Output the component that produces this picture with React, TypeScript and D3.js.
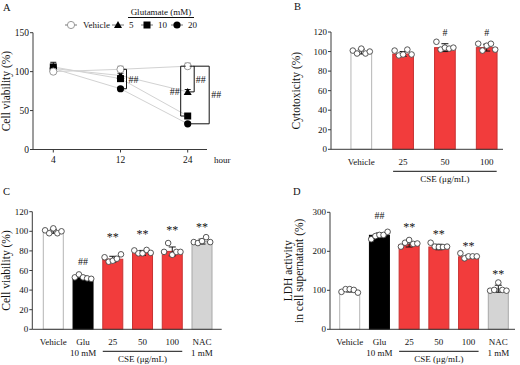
import React from 'react';
import * as d3 from 'd3';

const FONT = "'Liberation Serif', 'Times New Roman', serif";

// ---------- Panel A data ----------
const timeLabels = ['4', '12', '24'];
const vehicleA = [100, 103, 107];
const vehicleASd = [3, 4, 4];
const glu5A = [104, 95, 74];
const glu5ASd = [3, 3, 3];
const glu10A = [106, 91, 43];
const glu10ASd = [6, 3, 2];
const glu20A = [104, 78, 33];
const glu20ASd = [3, 2, 2];
const yTicksA = [0, 50, 100, 150];
const legendLabelsA = ['Vehicle', '5', '10', '20'];

// ---------- Panel B data ----------
const catsB = ['Vehicle', '25', '50', '100'];
const meansB = [100, 97.5, 104, 104];
const sdB = [2.5, 2.5, 4, 3.5];
const dotsB = [
  [101, 98, 103, 98, 100],
  [101, 96, 97, 102, 97],
  [110, 102, 104, 103, 104],
  [108, 101, 106, 108, 102],
];
const marksB = ['', '', '#', '#'];
const markPosB = [0, 0, 119, 119];
const yTicksB = [0, 20, 40, 60, 80, 100, 120];

// ---------- Panel C data ----------
const catsC = ['Vehicle', 'Glu\n10 mM', '25', '50', '100', 'NAC\n1 mM'];
const meansC = [100, 53, 71.5, 78, 79.5, 89.5];
const sdC = [2, 1.5, 3, 2.5, 4.5, 2.5];
const dotsC = [
  [101, 98, 103, 98, 100],
  [53, 56, 53, 52, 51.5],
  [73.5, 69, 70, 72, 76.5],
  [80.5, 77.5, 77.5, 81, 78],
  [79, 88, 76, 79, 79],
  [89, 88, 90, 94, 89],
];
const marksC = ['', '##', '**', '**', '**', '**'];
const markPosC = [0, 69, 96, 99.5, 103, 106];
const yTicksC = [0, 20, 40, 60, 80, 100, 120];

// ---------- Panel D data ----------
const catsD = ['Vehicle', 'Glu\n10 mM', '25', '50', '100', 'NAC\n1 mM'];
const meansD = [99, 241, 217, 211, 186, 104];
const sdD = [3.5, 6, 6, 7, 4, 9];
const dotsD = [
  [96, 103, 103, 101, 94],
  [231, 239, 242, 242, 250],
  [212, 222, 229, 219, 220],
  [222, 212, 211, 211, 212],
  [195, 182, 187, 187, 187],
  [99, 101, 120, 101, 99],
];
const marksD = ['', '##', '**', '**', '**', '**'];
const markPosD = [0, 293, 267, 250, 220, 148];
const yTicksD = [0, 100, 200, 300];

const cseLabel = 'CSE (μg/mL)';

const AX = '#3a3a3a';
const RED = '#f23c3c';
const RED_S = '#c83232';

type BarProps = {
  cats: string[]; means: number[]; sds: number[]; dots: number[][];
  marks: string[]; markPos: number[]; yMax: number; yTicks: number[];
  axisL: number; axisR: number; top: number; bottom: number;
  firstC: number; lastC: number; barW: number;
  fills: string[]; strokes: string[];
  yLabel: string[]; yLabelX: number; cseFrom: string; cseTo: string;
};

function BarPanel(p: BarProps) {
  const y = d3.scaleLinear().domain([0, p.yMax]).range([p.bottom, p.top]);
  const x = d3.scalePoint<string>().domain(p.cats).range([p.firstC, p.lastC]);
  const yc = (p.top + p.bottom) / 2;
  const cx1 = (x(p.cseFrom) as number) - 10;
  const cx2 = (x(p.cseTo) as number) + 10;
  return (
    <g fontFamily={FONT}>
      {p.cats.map((c, i) => {
        const cx = x(c) as number;
        const n = p.dots[i].length;
        const hi = y(p.means[i] + p.sds[i]);
        const lo = y(p.means[i] - p.sds[i]);
        return (
          <g key={c}>
            <rect x={cx - p.barW / 2} y={y(p.means[i])} width={p.barW}
              height={p.bottom - y(p.means[i])} fill={p.fills[i]} stroke={p.strokes[i]} strokeWidth={1} />
            <line x1={cx} x2={cx} y1={hi} y2={lo} stroke="#111" strokeWidth={1} />
            <line x1={cx - 3.5} x2={cx + 3.5} y1={hi} y2={hi} stroke="#111" strokeWidth={1} />
            <line x1={cx - 3.5} x2={cx + 3.5} y1={lo} y2={lo} stroke="#111" strokeWidth={1} />
            {p.dots[i].map((v, j) => (
              <circle key={j} cx={cx + (j - (n - 1) / 2) * (p.barW * 0.82 / (n - 1))} cy={y(v)} r={2.8}
                fill="#fff" stroke="#444" strokeWidth={0.9} />
            ))}
            {p.marks[i] && (
              <text x={cx} y={y(p.markPos[i]) + (p.marks[i] === '**' ? 6 : 3.5)} textAnchor="middle"
                fontSize={p.marks[i] === '**' ? 12 : 10} fill="#111">{p.marks[i]}</text>
            )}
            {c.split('\n').map((t, k) => (
              <text key={k} x={cx} y={p.bottom + 16 + k * 11} textAnchor="middle" fontSize={9} fill="#111">{t}</text>
            ))}
          </g>
        );
      })}
      <line x1={p.axisL} x2={p.axisR} y1={p.bottom} y2={p.bottom} stroke={AX} strokeWidth={1} />
      <line x1={p.axisL} x2={p.axisL} y1={p.bottom} y2={p.top} stroke={AX} strokeWidth={1} />
      {p.yTicks.map(t => (
        <g key={t}>
          <line x1={p.axisL - 3} x2={p.axisL} y1={y(t)} y2={y(t)} stroke={AX} strokeWidth={1} />
          <text x={p.axisL - 4} y={y(t) + 3} textAnchor="end" fontSize={9} fill="#111">{t}</text>
        </g>
      ))}
      <line x1={cx1} x2={cx2} y1={p.bottom + 22} y2={p.bottom + 22} stroke="#111" strokeWidth={1} />
      <text x={(cx1 + cx2) / 2} y={p.bottom + 33} textAnchor="middle" fontSize={9} fill="#111">{cseLabel}</text>
      {p.yLabel.map((t, k) => (
        <text key={k} transform={`translate(${p.yLabelX + k * 11},${yc}) rotate(-90)`} textAnchor="middle"
          fontSize={11.5} fill="#111">{t}</text>
      ))}
    </g>
  );
}

function Marker({ kind, x, y }: { kind: number; x: number; y: number }) {
  if (kind === 0) return <circle cx={x} cy={y} r={3.6} fill="#fff" stroke="#999" strokeWidth={1} />;
  if (kind === 1) return <path d={`M${x},${y - 4}L${x + 4},${y + 3}L${x - 4},${y + 3}Z`} fill="#000" />;
  if (kind === 2) return <rect x={x - 3.5} y={y - 3.5} width={7} height={7} fill="#000" />;
  return <circle cx={x} cy={y} r={3.6} fill="#000" />;
}

function PanelA() {
  const axisL = 33, axisR = 207, top = 32.7, bottom = 149.5;
  const y = d3.scaleLinear().domain([0, 150]).range([bottom, top]);
  const x = d3.scalePoint<string>().domain(timeLabels).range([53.3, 187.7]);
  const series = [vehicleA, glu5A, glu10A, glu20A];
  const sds = [vehicleASd, glu5ASd, glu10ASd, glu20ASd];
  const line = d3.line<number>().x((_, i) => x(timeLabels[i]) as number).y(v => y(v));
  const x12 = x('12') as number, x24 = x('24') as number;
  const legX = [71, 118, 147, 177];
  const bracket = (bx: number, y1: number, y2: number, tick1: number, tick2: number) =>
    `M${tick1},${y1}H${bx}V${y2}H${tick2}`;
  return (
    <g fontFamily={FONT}>
      {series.map((s, k) => (
        <path key={k} d={line(s) || ''} fill="none" stroke="#d2d2d2" strokeWidth={1} />
      ))}
      {series.map((s, k) => s.map((v, i) => {
        const cx = x(timeLabels[i]) as number;
        const c = k === 0 ? '#999' : '#111';
        return (
          <g key={`${k}-${i}`}>
            <line x1={cx} x2={cx} y1={y(v + sds[k][i])} y2={y(v - sds[k][i])} stroke={c} strokeWidth={1} />
            <line x1={cx - 3} x2={cx + 3} y1={y(v + sds[k][i])} y2={y(v + sds[k][i])} stroke={c} strokeWidth={1} />
          </g>
        );
      }))}
      {[3, 2, 1, 0].map(k => series[k].map((v, i) => (
        <Marker key={`m${k}-${i}`} kind={k} x={x(timeLabels[i]) as number} y={y(v)} />
      )))}
      <g fill="none" stroke="#111" strokeWidth={1}>
        <path d={bracket(x12 + 6, y(vehicleA[1]), y(glu20A[1]), x12 + 3, x12 + 3)} />
        <path d={bracket(x24 - 7, y(vehicleA[2]), y(glu10A[2]), x24 - 2, x24 - 2)} />
        <path d={bracket(x24 + 6.5, y(vehicleA[2]), y(glu5A[2]), x24 + 2, x24 + 2)} />
        <path d={bracket(x24 + 21.5, y(vehicleA[2]), y(glu20A[2]), x24 + 6, x24 + 2)} />
      </g>
      <g fontSize={10} fill="#111">
        <text x={x12 + 8} y={(y(vehicleA[1]) + y(glu20A[1])) / 2 + 3.5}>##</text>
        <text x={x24 - 8} y={(y(vehicleA[2]) + y(glu10A[2])) / 2 + 3.5} textAnchor="end">##</text>
        <text x={x24 + 8} y={(y(vehicleA[2]) + y(glu5A[2])) / 2 + 3.5}>##</text>
        <text x={x24 + 23.5} y={(y(vehicleA[2]) + y(glu20A[2])) / 2 + 3.5}>##</text>
      </g>
      <line x1={axisL} x2={axisR} y1={bottom} y2={bottom} stroke={AX} />
      <line x1={axisL} x2={axisL} y1={bottom} y2={top} stroke={AX} />
      {yTicksA.map(t => (
        <g key={t}>
          <line x1={axisL - 3} x2={axisL} y1={y(t)} y2={y(t)} stroke={AX} />
          <text x={axisL - 4} y={y(t) + 3} textAnchor="end" fontSize={9.5} fill="#111">{t}</text>
        </g>
      ))}
      {timeLabels.map(t => (
        <g key={t}>
          <line x1={x(t) as number} x2={x(t) as number} y1={bottom} y2={bottom + 3} stroke={AX} />
          <text x={x(t) as number} y={bottom + 13} textAnchor="middle" fontSize={9.5} fill="#111">{t}</text>
        </g>
      ))}
      <text x={214} y={bottom + 13} fontSize={9} fill="#111">hour</text>
      <text transform={`translate(10,${(top + bottom) / 2}) rotate(-90)`} textAnchor="middle" fontSize={11.5} fill="#111">Cell viability (%)</text>
      <text x={161} y={15} textAnchor="middle" fontSize={9} fill="#111">Glutamate (mM)</text>
      <line x1={128} x2={194} y1={17.5} y2={17.5} stroke="#111" />
      {legendLabelsA.map((l, k) => (
        <g key={l}>
          <line x1={legX[k] - 6} x2={legX[k] + 6} y1={25} y2={25} stroke="#777" />
          <Marker kind={k} x={legX[k]} y={25} />
          <text x={legX[k] + (k === 0 ? 12 : 11)} y={28} fontSize={9} fill="#111">{l}</text>
        </g>
      ))}
    </g>
  );
}

export default function App() {
  const fillsB = ['#fff', RED, RED, RED];
  const strokesB = ['#b5b5b5', RED_S, RED_S, RED_S];
  const fills6 = ['#fff', '#000', RED, RED, RED, '#d4d4d4'];
  const strokes6 = ['#b5b5b5', '#000', RED_S, RED_S, RED_S, '#a8a8a8'];
  return (
    <svg width={520} height={365} style={{ position: 'absolute', left: 0, top: 0, background: '#fff' }}
      fontFamily={FONT}>
      <rect width={520} height={365} fill="#fff" />
      <g fontSize={10.5} fill="#111">
        <text x={3} y={11}>A</text>
        <text x={294} y={10}>B</text>
        <text x={3} y={195}>C</text>
        <text x={293} y={195}>D</text>
      </g>
      <PanelA />
      <BarPanel cats={catsB} means={meansB} sds={sdB} dots={dotsB} marks={marksB} markPos={markPosB}
        yMax={120} yTicks={yTicksB} axisL={331} axisR={503} top={32} bottom={149.3}
        firstC={361.3} lastC={486.7} barW={20.7} fills={fillsB} strokes={strokesB}
        yLabel={['Cytotoxicity (%)']} yLabelX={300} cseFrom="25" cseTo="100" />
      <BarPanel cats={catsC} means={meansC} sds={sdC} dots={dotsC} marks={marksC} markPos={markPosC}
        yMax={120} yTicks={yTicksC} axisL={32.3} axisR={221.7} top={211.7} bottom={329.3}
        firstC={53.3} lastC={202} barW={20} fills={fills6} strokes={strokes6}
        yLabel={['Cell viability (%)']} yLabelX={10} cseFrom="25" cseTo="100" />
      <BarPanel cats={catsD} means={meansD} sds={sdD} dots={dotsD} marks={marksD} markPos={markPosD}
        yMax={300} yTicks={yTicksD} axisL={330} axisR={515} top={212.3} bottom={329.3}
        firstC={349.7} lastC={498.3} barW={20} fills={fills6} strokes={strokes6}
        yLabel={['LDH activity', 'in cell supernatant (%)']} yLabelX={292} cseFrom="25" cseTo="100" />
    </svg>
  );
}
